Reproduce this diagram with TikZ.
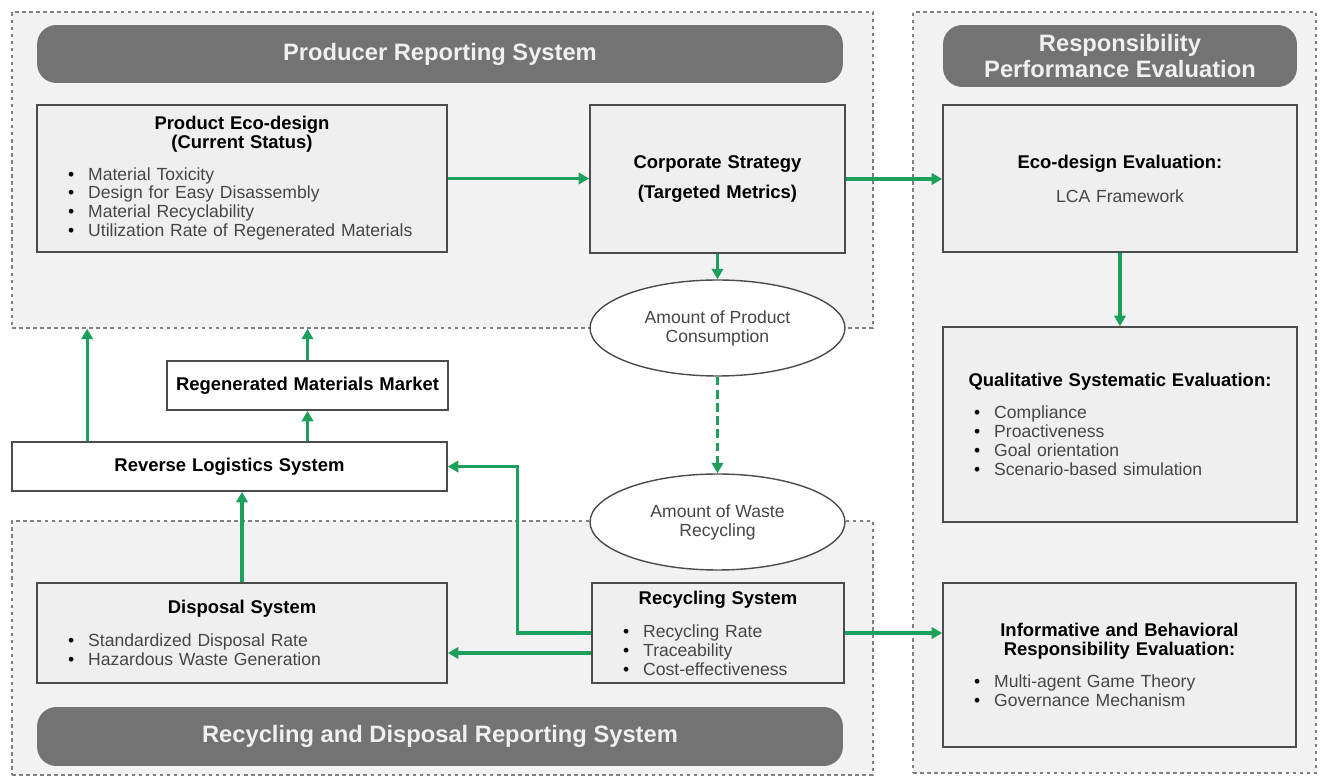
\documentclass[tikz,border=0pt]{standalone}
\usepackage{fontspec}
\setmainfont{Liberation Sans}
\usetikzlibrary{arrows.meta,shapes.geometric}

\definecolor{flowgreen}{RGB}{28,160,92}
\definecolor{bargray}{RGB}{115,115,115}
\definecolor{regfill}{RGB}{242,242,242}
\definecolor{boxfill}{RGB}{239,239,239}
\definecolor{itemgray}{RGB}{70,70,70}

% one bullet line, indented from the left side of the box
\newcommand{\bul}[1]{\makebox[\hsize][l]{\hspace{6.2mm}\textbullet\hspace{2.8mm}\textcolor{itemgray}{#1}}}
% bold heading inside a box
\newcommand{\hd}[1]{{\fontsize{10.5}{10.8}\selectfont\bfseries #1}}

\begin{document}
\begin{tikzpicture}[x=0.02cm, y=-0.02cm,
    font=\fontsize{10}{10.8}\selectfont,
    region/.style={draw=black!50, dash pattern=on 2pt off 2pt, line width=0.8pt, fill=regfill, inner sep=0pt},
    bar/.style={rounded corners=11pt, fill=bargray, text=white!94!black, inner sep=0pt,
        font=\fontsize{13.5}{14.5}\selectfont\bfseries},
    box/.style={draw=black!70, line width=1pt, fill=boxfill, inner xsep=0pt, inner ysep=0pt, align=center},
    plain/.style={box, fill=white},
    amount/.style={ellipse, draw=black!70, line width=0.8pt, fill=white, inner sep=0pt, align=center,
        text=itemgray, minimum width=51mm, minimum height=19.2mm},
    flow/.style={draw=flowgreen, line width=1.8pt, -{Triangle[length=6pt,width=6.5pt]}}]
\useasboundingbox (0,0) rectangle (1320,780);

% reporting regions
\node[region, minimum width=172.2mm, minimum height=63.2mm] (prodreg) at (442.5,170) {};
\node[region, minimum width=172.2mm, minimum height=50.8mm] (recreg) at (442.5,648) {};
\node[region, minimum width=80.6mm, minimum height=152.2mm] (respreg) at (1114.5,392.5) {};

% title bars
\node[bar, minimum width=161.2mm, minimum height=11.6mm] (prodbar) at (440,54) {Producer Reporting System};
\node[bar, minimum width=161.2mm, minimum height=11.8mm] (recbar) at (440,736.5) {Recycling and Disposal Reporting System};
\node[bar, minimum width=70.8mm, minimum height=12.4mm, align=center] (respbar) at (1120,56) {Responsibility\\Performance Evaluation};

% producer side
\node[box, text width=82mm, minimum height=29.4mm] (prodeco) at (242,178.5)
    {\hd{Product Eco-design}\\ \hd{(Current Status)}\\[7pt]
     \bul{Material Toxicity}\\ \bul{Design for Easy Disassembly}\\
     \bul{Material Recyclability}\\ \bul{Utilization Rate of Regenerated Materials}};
\node[box, text width=51mm, minimum height=29.6mm] (corp) at (717.5,179)
    {\hd{Corporate Strategy}\\[6pt] \hd{(Targeted Metrics)}};
\node[amount] (consum) at (717.5,328) {Amount of Product\\Consumption};
\node[amount] (waste) at (717.5,522) {Amount of Waste\\Recycling};

% reverse flow
\node[plain, text width=56.2mm, minimum height=9.8mm] (regen) at (307.5,385.5) {\hd{Regenerated Materials Market}};
\node[plain, text width=87mm, minimum height=9.8mm] (revlog) at (229.5,466.5) {\hd{Reverse Logistics System}};

% recycling and disposal side
\node[box, text width=82mm, minimum height=20mm] (disposal) at (242,633)
    {\hd{Disposal System}\\[8pt]
     \bul{Standardized Disposal Rate}\\ \bul{Hazardous Waste Generation}};
\node[box, text width=50.4mm, minimum height=20mm] (recyc) at (718,633)
    {\hd{Recycling System}\\[8pt]
     \bul{Recycling Rate}\\ \bul{Traceability}\\ \bul{Cost-effectiveness}};

% evaluation side
\node[box, text width=70.8mm, minimum height=29.4mm] (ecoeval) at (1120,178.5)
    {\hd{Eco-design Evaluation:}\\[8.5pt] \textcolor{itemgray}{LCA Framework}};
\node[box, text width=70.8mm, minimum height=39mm] (qualeval) at (1120,424.5)
    {\hd{Qualitative Systematic Evaluation:}\\[7pt]
     \bul{Compliance}\\ \bul{Proactiveness}\\ \bul{Goal orientation}\\ \bul{Scenario-based simulation}};
\node[box, text width=70.6mm, minimum height=32.8mm] (infoeval) at (1119.5,665)
    {\hd{Informative and Behavioral}\\ \hd{Responsibility Evaluation:}\\[7pt]
     \bul{Multi-agent Game Theory}\\ \bul{Governance Mechanism}};

% connectors
\draw[flow] (prodeco.east) -- (prodeco.east -| corp.west);
\draw[flow] (corp.east) -- (corp.east -| ecoeval.west);
\draw[flow] (corp.south) -- (consum.north);
\draw[flow, dash pattern=on 5pt off 2.5pt] (consum.south) -- (waste.north);
\draw[flow] (ecoeval.south) -- (qualeval.north);
\draw[flow] (recyc.east) -- (recyc.east -| infoeval.west);
\coordinate (rc1) at ([yshift=-4mm]recyc.west);
\draw[flow] (rc1) -- (rc1 -| disposal.east);
\draw[flow] (recyc.west) -- ++(-74,0) |- (revlog.east);
\draw[flow] (disposal.north) -- (disposal.north |- revlog.south);
\draw[flow] (regen.south |- revlog.north) -- (regen.south);
\draw[flow] (regen.north) -- (regen.north |- prodreg.south);
\coordinate (rl1) at ([xshift=15.2mm]revlog.north west);
\draw[flow] (rl1) -- (rl1 |- prodreg.south);
\end{tikzpicture}
\end{document}
